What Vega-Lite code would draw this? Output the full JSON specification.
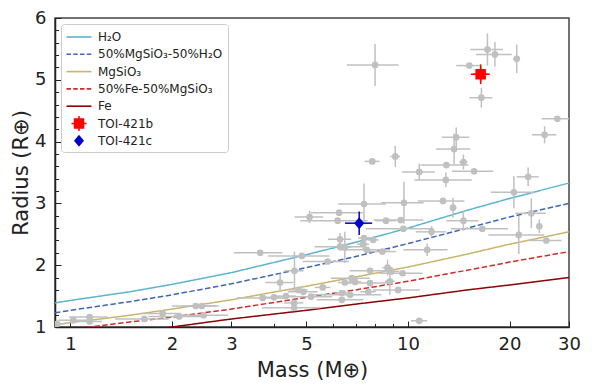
{
  "$schema": "https://vega.github.io/schema/vega-lite/v6.json",
  "width": 514,
  "height": 309,
  "autosize": {"type": "none"},
  "padding": {"left": 55, "top": 18, "right": 23, "bottom": 61},
  "config": {
    "font": "DejaVu Sans",
    "view": {"stroke": "#444444", "strokeWidth": 1.5},
    "axis": {
      "domainColor": "#222222", "domainWidth": 1.5, "tickColor": "#222222", "tickWidth": 1,
      "labelColor": "#222222", "titleColor": "#222222", "labelFont": "DejaVu Sans", "titleFont": "DejaVu Sans",
      "labelFontSize": 18, "titleFontSize": 21, "titleFontWeight": "normal", "grid": false,
      "labelOverlap": false, "labelFlush": false
    },
    "legend": {
      "fillColor": "white", "strokeColor": "#cccccc", "cornerRadius": 3, "padding": 5,
      "labelFont": "DejaVu Sans", "labelFontSize": 12, "labelColor": "#222222",
      "symbolSize": 256, "symbolStrokeWidth": 0, "symbolOffset": 5, "rowPadding": 1.3, "labelOffset": 11, "gridAlign": "all"
    }
  },
  "datasets": {
    "curves": [
      {"series": "H₂O", "m": 0.9, "r": 1.39}, {"series": "H₂O", "m": 1, "r": 1.43}, {"series": "H₂O", "m": 1.5, "r": 1.57}, {"series": "H₂O", "m": 2, "r": 1.69}, {"series": "H₂O", "m": 3, "r": 1.88}, {"series": "H₂O", "m": 5, "r": 2.17}, {"series": "H₂O", "m": 7, "r": 2.37}, {"series": "H₂O", "m": 10, "r": 2.6}, {"series": "H₂O", "m": 15, "r": 2.89}, {"series": "H₂O", "m": 20, "r": 3.08}, {"series": "H₂O", "m": 30, "r": 3.33},
      {"series": "50%MgSiO₃-50%H₂O", "m": 0.9, "r": 1.23}, {"series": "50%MgSiO₃-50%H₂O", "m": 1, "r": 1.27}, {"series": "50%MgSiO₃-50%H₂O", "m": 1.5, "r": 1.41}, {"series": "50%MgSiO₃-50%H₂O", "m": 2, "r": 1.52}, {"series": "50%MgSiO₃-50%H₂O", "m": 3, "r": 1.7}, {"series": "50%MgSiO₃-50%H₂O", "m": 5, "r": 1.96}, {"series": "50%MgSiO₃-50%H₂O", "m": 7, "r": 2.14}, {"series": "50%MgSiO₃-50%H₂O", "m": 10, "r": 2.35}, {"series": "50%MgSiO₃-50%H₂O", "m": 15, "r": 2.6}, {"series": "50%MgSiO₃-50%H₂O", "m": 20, "r": 2.78}, {"series": "50%MgSiO₃-50%H₂O", "m": 30, "r": 3.0},
      {"series": "MgSiO₃", "m": 0.9, "r": 1.04}, {"series": "MgSiO₃", "m": 1, "r": 1.07}, {"series": "MgSiO₃", "m": 1.5, "r": 1.19}, {"series": "MgSiO₃", "m": 2, "r": 1.29}, {"series": "MgSiO₃", "m": 3, "r": 1.44}, {"series": "MgSiO₃", "m": 5, "r": 1.66}, {"series": "MgSiO₃", "m": 7, "r": 1.81}, {"series": "MgSiO₃", "m": 10, "r": 1.97}, {"series": "MgSiO₃", "m": 15, "r": 2.18}, {"series": "MgSiO₃", "m": 20, "r": 2.34}, {"series": "MgSiO₃", "m": 30, "r": 2.54},
      {"series": "50%Fe-50%MgSiO₃", "m": 1, "r": 0.96}, {"series": "50%Fe-50%MgSiO₃", "m": 1.5, "r": 1.08}, {"series": "50%Fe-50%MgSiO₃", "m": 2, "r": 1.16}, {"series": "50%Fe-50%MgSiO₃", "m": 3, "r": 1.29}, {"series": "50%Fe-50%MgSiO₃", "m": 5, "r": 1.48}, {"series": "50%Fe-50%MgSiO₃", "m": 7, "r": 1.6}, {"series": "50%Fe-50%MgSiO₃", "m": 10, "r": 1.74}, {"series": "50%Fe-50%MgSiO₃", "m": 15, "r": 1.92}, {"series": "50%Fe-50%MgSiO₃", "m": 20, "r": 2.05}, {"series": "50%Fe-50%MgSiO₃", "m": 30, "r": 2.22},
      {"series": "Fe", "m": 1, "r": 0.8}, {"series": "Fe", "m": 1.5, "r": 0.91}, {"series": "Fe", "m": 2, "r": 1.0}, {"series": "Fe", "m": 3, "r": 1.13}, {"series": "Fe", "m": 5, "r": 1.27}, {"series": "Fe", "m": 7, "r": 1.37}, {"series": "Fe", "m": 10, "r": 1.47}, {"series": "Fe", "m": 15, "r": 1.6}, {"series": "Fe", "m": 20, "r": 1.68}, {"series": "Fe", "m": 30, "r": 1.8}
    ],
    "pts": [
      {"m": 7.99, "me": 1.4, "r": 5.24, "re": 0.34}, {"m": 15.2, "me": 1.3, "r": 5.23, "re": 0.04}, {"m": 17.2, "me": 1.9, "r": 5.49, "re": 0.26}, {"m": 18.1, "me": 2.2, "r": 5.41, "re": 0.2}, {"m": 21.0, "me": 0.5, "r": 5.34, "re": 0.23},
      {"m": 16.5, "me": 1.3, "r": 4.71, "re": 0.16}, {"m": 27.7, "me": 2.8, "r": 4.37, "re": 0.03}, {"m": 25.4, "me": 2.1, "r": 4.11, "re": 0.14}, {"m": 13.9, "me": 1.3, "r": 4.07, "re": 0.16}, {"m": 13.7, "me": 1.6, "r": 3.88, "re": 0.25},
      {"m": 7.84, "me": 0.4, "r": 3.68, "re": 0.03}, {"m": 9.17, "me": 0.3, "r": 3.76, "re": 0.17}, {"m": 13.0, "me": 2.1, "r": 3.62, "re": 0.03}, {"m": 14.6, "me": 0.4, "r": 3.67, "re": 0.12}, {"m": 15.7, "me": 2.2, "r": 3.52, "re": 0.03},
      {"m": 10.8, "me": 1.2, "r": 3.51, "re": 0.13}, {"m": 12.95, "me": 2.5, "r": 3.38, "re": 0.12}, {"m": 22.7, "me": 1.7, "r": 3.43, "re": 0.15}, {"m": 20.6, "me": 3.0, "r": 3.18, "re": 0.26}, {"m": 9.73, "me": 1.4, "r": 3.01, "re": 0.34},
      {"m": 12.7, "me": 2.0, "r": 3.04, "re": 0.03}, {"m": 13.6, "me": 0.3, "r": 2.93, "re": 0.16}, {"m": 23.2, "me": 2.4, "r": 2.84, "re": 0.24}, {"m": 24.5, "me": 0.3, "r": 2.63, "re": 0.11}, {"m": 8.61, "me": 0.6, "r": 2.72, "re": 0.03},
      {"m": 9.51, "me": 1.6, "r": 2.73, "re": 0.03}, {"m": 9.69, "me": 2.2, "r": 2.59, "re": 0.03}, {"m": 14.6, "me": 1.6, "r": 2.72, "re": 0.16}, {"m": 11.75, "me": 1.2, "r": 2.54, "re": 0.09}, {"m": 16.6, "me": 3.2, "r": 2.59, "re": 0.03},
      {"m": 21.3, "me": 4.0, "r": 2.49, "re": 0.31}, {"m": 25.7, "me": 2.8, "r": 2.4, "re": 0.03}, {"m": 11.4, "me": 1.7, "r": 2.25, "re": 0.1}, {"m": 8.4, "me": 0.8, "r": 2.22, "re": 0.03}, {"m": 8.7, "me": 0.3, "r": 1.96, "re": 0.13},
      {"m": 8.93, "me": 0.5, "r": 1.9, "re": 0.05}, {"m": 9.64, "me": 1.4, "r": 1.87, "re": 0.03}, {"m": 8.84, "me": 0.3, "r": 1.74, "re": 0.22}, {"m": 9.35, "me": 1.5, "r": 1.6, "re": 0.03}, {"m": 7.41, "me": 1.2, "r": 2.99, "re": 0.33},
      {"m": 6.25, "me": 1.1, "r": 2.85, "re": 0.03}, {"m": 5.11, "me": 0.5, "r": 2.78, "re": 0.1}, {"m": 6.19, "me": 1.4, "r": 2.72, "re": 0.03}, {"m": 6.29, "me": 0.5, "r": 2.42, "re": 0.1}, {"m": 7.41, "me": 0.3, "r": 2.44, "re": 0.03},
      {"m": 7.89, "me": 0.3, "r": 2.41, "re": 0.03}, {"m": 6.29, "me": 1.0, "r": 2.3, "re": 0.03}, {"m": 6.5, "me": 0.3, "r": 2.29, "re": 0.25}, {"m": 7.37, "me": 0.3, "r": 2.34, "re": 0.08}, {"m": 7.55, "me": 1.3, "r": 2.25, "re": 0.03},
      {"m": 4.85, "me": 1.0, "r": 2.15, "re": 0.03}, {"m": 5.78, "me": 0.9, "r": 2.06, "re": 0.03}, {"m": 7.72, "me": 1.0, "r": 1.91, "re": 0.03}, {"m": 6.81, "me": 0.9, "r": 1.79, "re": 0.03}, {"m": 6.5, "me": 0.3, "r": 1.72, "re": 0.03},
      {"m": 6.97, "me": 0.3, "r": 1.73, "re": 0.03}, {"m": 7.72, "me": 1.2, "r": 1.71, "re": 0.03}, {"m": 4.74, "me": 0.3, "r": 1.6, "re": 0.03}, {"m": 4.9, "me": 0.5, "r": 1.57, "re": 0.03}, {"m": 5.59, "me": 0.3, "r": 1.64, "re": 0.03},
      {"m": 5.16, "me": 0.8, "r": 1.49, "re": 0.03}, {"m": 6.37, "me": 0.3, "r": 1.55, "re": 0.03}, {"m": 6.74, "me": 1.6, "r": 1.52, "re": 0.03}, {"m": 7.63, "me": 0.4, "r": 1.57, "re": 0.03}, {"m": 6.37, "me": 1.0, "r": 1.44, "re": 0.03},
      {"m": 10.8, "me": 0.6, "r": 1.1, "re": 0.02}, {"m": 3.65, "me": 0.6, "r": 2.2, "re": 0.03}, {"m": 4.61, "me": 0.3, "r": 1.91, "re": 0.31}, {"m": 4.18, "me": 0.4, "r": 1.72, "re": 0.14}, {"m": 3.71, "me": 0.6, "r": 1.47, "re": 0.03},
      {"m": 4.01, "me": 0.3, "r": 1.48, "re": 0.03}, {"m": 4.35, "me": 0.3, "r": 1.5, "re": 0.03}, {"m": 4.6, "me": 0.3, "r": 1.39, "re": 0.03}, {"m": 4.6, "me": 0.9, "r": 1.31, "re": 0.03}, {"m": 0.913, "me": 0.05, "r": 1.05, "re": 0.02},
      {"m": 1.02, "me": 0.1, "r": 1.11, "re": 0.02}, {"m": 1.14, "me": 0.15, "r": 1.16, "re": 0.02}, {"m": 1.14, "me": 0.1, "r": 1.09, "re": 0.02}, {"m": 1.655, "me": 0.3, "r": 1.13, "re": 0.02}, {"m": 1.875, "me": 0.25, "r": 1.22, "re": 0.02},
      {"m": 2.1, "me": 0.4, "r": 1.17, "re": 0.02}, {"m": 2.35, "me": 0.35, "r": 1.34, "re": 0.02}, {"m": 2.45, "me": 0.3, "r": 1.34, "re": 0.02}, {"m": 2.48, "me": 0.45, "r": 1.19, "re": 0.02}
    ],
    "toi": [
      {"series": "TOI-421b", "m": 16.42, "me": 1.06, "r": 5.09, "re": 0.16},
      {"series": "TOI-421c", "m": 7.17, "me": 0.66, "r": 2.68, "re": 0.19}
    ]
  },
  "layer": [
    {
      "data": {"name": "curves"},
      "mark": {"type": "line", "strokeWidth": 1.5, "clip": true},
      "encoding": {
        "x": {
          "field": "m", "type": "quantitative", "title": "Mass (M⊕)",
          "scale": {"type": "log", "domain": [0.9, 30], "nice": false},
          "axis": {
            "values": [1, 2, 3, 4, 5, 6, 7, 8, 9, 10, 20, 30], "tickCount": 40,
            "labelExpr": "indexof([1,2,3,5,10,20,30], datum.value) >= 0 ? datum.value + '' : ''",
            "labelPadding": 14, "titlePadding": 4,
            "tickSize": {"condition": {"test": "indexof([1,2,3,5,10,20,30], datum.value) >= 0", "value": -6}, "value": -3.5}
          }
        },
        "y": {
          "field": "r", "type": "quantitative", "title": "Radius (R⊕)",
          "scale": {"domain": [1, 6], "nice": false, "zero": false},
          "axis": {
            "values": [1, 1.2, 1.4, 1.6, 1.8, 2, 2.2, 2.4, 2.6, 2.8, 3, 3.2, 3.4, 3.6, 3.8, 4, 4.2, 4.4, 4.6, 4.8, 5, 5.2, 5.4, 5.6, 5.8, 6], "tickCount": 40,
            "labelExpr": "datum.value % 1 === 0 ? datum.value + '' : ''",
            "labelFontSize": {"condition": {"test": "datum.value % 1 !== 0", "value": 0.1}, "value": 18},
            "labelPadding": 15, "titlePadding": 3,
            "tickSize": {"condition": {"test": "datum.value % 1 === 0", "value": -6}, "value": -3.5}
          }
        },
        "stroke": {
          "field": "series", "type": "nominal", "legend": null,
          "scale": {"domain": ["H₂O", "50%MgSiO₃-50%H₂O", "MgSiO₃", "50%Fe-50%MgSiO₃", "Fe"], "range": ["#5ab4d2", "#3e66b3", "#c9b46c", "#d12a2a", "#8b0000"]}
        },
        "strokeDash": {
          "field": "series", "type": "nominal", "legend": null,
          "scale": {"domain": ["H₂O", "50%MgSiO₃-50%H₂O", "MgSiO₃", "50%Fe-50%MgSiO₃", "Fe"], "range": [[1, 0], [5.5, 2.5], [1, 0], [5.5, 2.5], [1, 0]]}
        }
      }
    },
    {
      "data": {"name": "pts"},
      "mark": {"type": "errorbar", "color": "#c0c0c0", "thickness": 1.5, "clip": true},
      "encoding": {
        "x": {"field": "m", "type": "quantitative", "title": "Mass (M⊕)"},
        "xError": {"field": "me"},
        "y": {"field": "r", "type": "quantitative", "title": "Radius (R⊕)"}
      }
    },
    {
      "data": {"name": "pts"},
      "mark": {"type": "errorbar", "color": "#c0c0c0", "thickness": 1.5, "clip": true},
      "encoding": {
        "y": {"field": "r", "type": "quantitative", "title": "Radius (R⊕)"},
        "yError": {"field": "re"},
        "x": {"field": "m", "type": "quantitative", "title": "Mass (M⊕)"}
      }
    },
    {
      "data": {"name": "pts"},
      "mark": {"type": "point", "filled": true, "color": "#c0c0c0", "opacity": 1, "size": 45, "clip": true},
      "encoding": {
        "x": {"field": "m", "type": "quantitative", "title": "Mass (M⊕)"},
        "y": {"field": "r", "type": "quantitative", "title": "Radius (R⊕)"}
      }
    },
    {
      "data": {"name": "toi"},
      "transform": [{"filter": "datum.series === 'TOI-421b'"}],
      "mark": {"type": "errorbar", "color": "#ff0000", "thickness": 1.5},
      "encoding": {"x": {"field": "m", "type": "quantitative", "title": "Mass (M⊕)"}, "xError": {"field": "me"}, "y": {"field": "r", "type": "quantitative", "title": "Radius (R⊕)"}}
    },
    {
      "data": {"name": "toi"},
      "transform": [{"filter": "datum.series === 'TOI-421b'"}],
      "mark": {"type": "errorbar", "color": "#ff0000", "thickness": 1.5},
      "encoding": {"y": {"field": "r", "type": "quantitative", "title": "Radius (R⊕)"}, "yError": {"field": "re"}, "x": {"field": "m", "type": "quantitative", "title": "Mass (M⊕)"}}
    },
    {
      "data": {"name": "toi"},
      "transform": [{"filter": "datum.series === 'TOI-421c'"}],
      "mark": {"type": "errorbar", "color": "#0000cd", "thickness": 1.5},
      "encoding": {"x": {"field": "m", "type": "quantitative", "title": "Mass (M⊕)"}, "xError": {"field": "me"}, "y": {"field": "r", "type": "quantitative", "title": "Radius (R⊕)"}}
    },
    {
      "data": {"name": "toi"},
      "transform": [{"filter": "datum.series === 'TOI-421c'"}],
      "mark": {"type": "errorbar", "color": "#0000cd", "thickness": 1.5},
      "encoding": {"y": {"field": "r", "type": "quantitative", "title": "Radius (R⊕)"}, "yError": {"field": "re"}, "x": {"field": "m", "type": "quantitative", "title": "Mass (M⊕)"}}
    },
    {
      "data": {"name": "toi"},
      "mark": {"type": "point", "filled": true, "opacity": 1, "size": 256, "strokeWidth": 0},
      "encoding": {
        "x": {"field": "m", "type": "quantitative", "title": "Mass (M⊕)"},
        "y": {"field": "r", "type": "quantitative", "title": "Radius (R⊕)"},
        "color": {
          "field": "series", "type": "nominal",
          "scale": {"domain": ["H₂O", "50%MgSiO₃-50%H₂O", "MgSiO₃", "50%Fe-50%MgSiO₃", "Fe", "TOI-421b", "TOI-421c"], "range": ["#5ab4d2", "#3e66b3", "#c9b46c", "#d12a2a", "#8b0000", "#ff0000", "#0000cd"]},
          "legend": {"orient": "none", "legendX": 6, "legendY": 6, "title": null}
        },
        "shape": {
          "field": "series", "type": "nominal",
          "scale": {"domain": ["H₂O", "50%MgSiO₃-50%H₂O", "MgSiO₃", "50%Fe-50%MgSiO₃", "Fe", "TOI-421b", "TOI-421c"], "range": [
            "M-1.5625,-0.1H1.5625V0.1H-1.5625Z",
            "M-1.5625,-0.1H-1.0V0.1H-1.5625Z M-0.719,-0.1H-0.156V0.1H-0.719Z M0.125,-0.1H0.6875V0.1H0.125Z M0.969,-0.1H1.531V0.1H0.969Z",
            "M-1.5625,-0.1H1.5625V0.1H-1.5625Z",
            "M-1.5625,-0.1H-1.0V0.1H-1.5625Z M-0.719,-0.1H-0.156V0.1H-0.719Z M0.125,-0.1H0.6875V0.1H0.125Z M0.969,-0.1H1.531V0.1H0.969Z",
            "M-1.5625,-0.1H1.5625V0.1H-1.5625Z",
            "M-0.656,-0.656H0.656V0.656H-0.656Z M-0.9375,-0.094H0.9375V0.094H-0.9375Z M-0.094,-0.9375H0.094V0.9375H-0.094Z",
            "M0,-0.75L0.625,0L0,0.75L-0.625,0Z"
          ]},
          "legend": {"orient": "none", "legendX": 6, "legendY": 6, "title": null}
        }
      }
    }
  ]
}
